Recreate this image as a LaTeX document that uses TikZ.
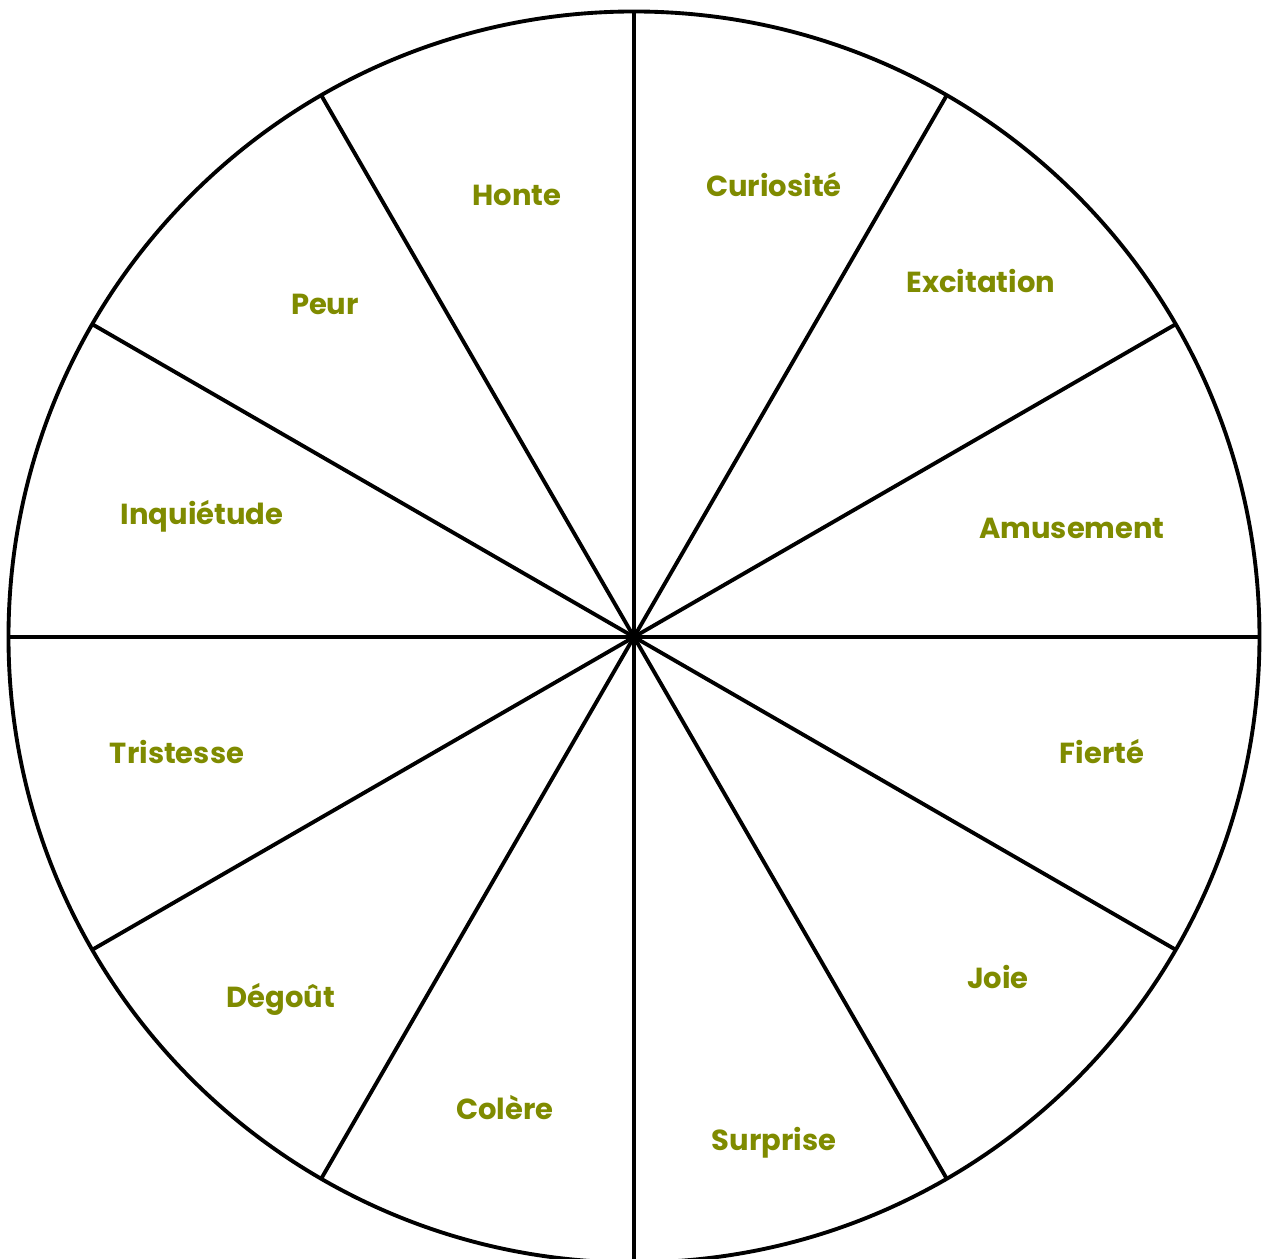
\documentclass[tikz,border=0pt]{standalone}
\usepackage{fontspec}
\setmainfont{Poppins}
\begin{document}
\begin{tikzpicture}[font=\bfseries\fontsize{8.25}{10}\selectfont]
  \definecolor{emotext}{HTML}{7F8B00}
  \tikzset{spoke/.style={black,line width=1.1pt},
    emo/.style={text=emotext,inner sep=0pt}}
  \path[use as bounding box] (-6.34,-6.22) rectangle (6.29,6.37);
  \coordinate (c) at (0,0);
  \draw[spoke] (c) circle (6.255);
  \draw[spoke] (180:6.255) -- (0:6.255);
  \draw[spoke] (210:6.255) -- (30:6.255);
  \draw[spoke] (240:6.255) -- (60:6.255);
  \draw[spoke] (270:6.255) -- (90:6.255);
  \draw[spoke] (300:6.255) -- (120:6.255);
  \draw[spoke] (330:6.255) -- (150:6.255);
  \node[emo] (honte) at (-1.17,4.42) {Honte};
  \node[emo] (curiosite) at (1.40,4.52) {Curiosité};
  \node[emo] (excitation) at (3.47,3.56) {Excitation};
  \node[emo] (amusement) at (4.38,1.09) {Amusement};
  \node[emo] (fierte) at (4.68,-1.15) {Fierté};
  \node[emo] (joie) at (3.64,-3.40) {Joie};
  \node[emo] (surprise) at (1.40,-5.06) {Surprise};
  \node[emo] (colere) at (-1.29,-4.71) {Colère};
  \node[emo] (degout) at (-3.53,-3.62) {Dégoût};
  \node[emo] (tristesse) at (-4.57,-1.15) {Tristesse};
  \node[emo] (inquietude) at (-4.32,1.21) {Inquiétude};
  \node[emo] (peur) at (-3.09,3.33) {Peur};
\end{tikzpicture}
\end{document}
